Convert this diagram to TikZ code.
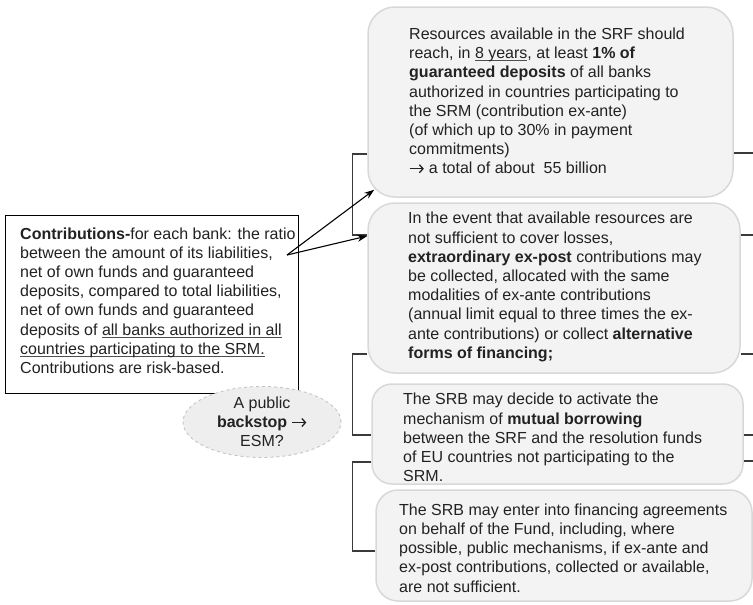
\documentclass[tikz,border=0pt]{standalone}
\usepackage{fontspec}
\setmainfont{Liberation Sans}
\usetikzlibrary{arrows.meta,shapes.geometric}
\definecolor{ink}{HTML}{222222}
\definecolor{boxfill}{HTML}{F3F3F3}
\definecolor{boxline}{HTML}{D8D8D8}
\definecolor{ovalfill}{HTML}{EEEEEE}
\definecolor{ovalline}{HTML}{C4C4C4}
\definecolor{wire}{HTML}{3A3A3A}
% underline drawn as a thin rule just below the baseline
\newcommand\ulx[1]{\setbox0\hbox{#1}\rlap{\color{ink!80}\rule[-2.6pt]{\wd0}{0.9pt}}\box0}
% inline right arrow with an open chevron head
\newcommand\rarr{\tikz[baseline=0pt]\draw[ink, line width=1.3pt, -{Straight Barb[length=3.6pt,width=8pt]}] (0pt,5.2pt) -- (14pt,5.2pt);}
\begin{document}
\begin{tikzpicture}[x=1pt,y=-1pt,
  rbox/.style={draw=boxline, line width=1.5pt, fill=boxfill, rounded corners=#1, inner sep=0pt},
  rbox/.default=26pt,
  plainbox/.style={draw=black, line width=1pt, fill=white, inner sep=0pt},
  oval/.style={ellipse, draw=ovalline, dashed, line width=0.9pt, fill=ovalfill, inner sep=0pt,
    align=center, text=ink, font=\fontsize{16}{19.2}\selectfont},
  txt/.style={align=left, anchor=west, inner sep=0pt, text=ink, font=\fontsize{16}{19.2}\selectfont},
  bracket/.style={draw=wire, line width=1.2pt},
  arr/.style={draw=black, line width=1.1pt, -{Stealth[length=10pt,width=7pt]}}]
\useasboundingbox (0,0) rectangle (753,605);
\coordinate (edge) at (753,0);

% fund resource boxes on the right
\node[rbox=27pt, minimum width=365pt, minimum height=190pt] (b1) at (550.5,102) {};
\node[rbox=27pt, minimum width=372pt, minimum height=170pt] (b2) at (554,288) {};
\node[rbox=20pt, minimum width=371pt, minimum height=100pt] (b3) at (557.5,434) {};
\node[rbox=22pt, minimum width=376pt, minimum height=111pt] (b4) at (564,545.5) {};

\node[txt] (t1) at (409,101) {Resources available in the SRF should\\
reach, in \ulx{8 years}, at least \textbf{1\% of}\\
\textbf{guaranteed deposits} of all banks\\
authorized in countries participating to\\
the SRM (contribution ex-ante)\\
(of which up to 30\% in payment\\
commitments)\\
\rarr\ a total of about\ \ 55 billion};

\node[txt] (t2) at (408,287) {In the event that available resources are\\
not sufficient to cover losses,\\
\textbf{extraordinary ex-post} contributions may\\
be collected, allocated with the same\\
modalities of ex-ante contributions\\
(annual limit equal to three times the ex-\\
ante contributions) or collect \textbf{alternative}\\
\textbf{forms of financing;}};

\node[txt] (t3) at (403,437.5) {The SRB may decide to activate the\\
mechanism of \textbf{mutual borrowing}\\
between the SRF and the resolution funds\\
of EU countries not participating to the\\
SRM.};

\node[txt] (t4) at (399,548) {The SRB may enter into financing agreements\\
on behalf of the Fund, including, where\\
possible, public mechanisms, if ex-ante and\\
ex-post contributions, collected or available,\\
are not sufficient.};

% contributions box and the backstop oval
\node[plainbox, minimum width=293pt, minimum height=178pt] (cb) at (151.5,304) {};
\node[txt] (tc) at (20,300.5) {\textbf{Contributions-}for each bank: the ratio\\
between the amount of its liabilities,\\
net of own funds and guaranteed\\
deposits, compared to total liabilities,\\
net of own funds and guaranteed\\
deposits of \ulx{all banks authorized in all}\\
\ulx{countries participating to the SRM.}\\
Contributions are risk-based.};

\node[oval, minimum width=158pt, minimum height=71pt] (bs) at (262,422)
  {A public\\\textbf{backstop} \rarr\\ESM?};

% brackets on the left side of the boxes
\draw[bracket] ([yshift=-52pt]b1.west) -- ++(-15,0) |- ([yshift=53pt]b2.west);
\draw[bracket] ([yshift=-66pt]b2.west) -- ++(-15,0) |- ([yshift=-1pt]b3.west);
\draw[bracket] ([yshift=-28pt]b3.west) -- ++(-19,0) |- ([yshift=-5.5pt]b4.west);

% connector stubs leaving on the right
\draw[bracket] ([yshift=-51pt]b1.east) -- ([yshift=-51pt]b1.east -| edge);
\draw[bracket] ([yshift=53pt]b2.east) -- ([yshift=53pt]b2.east -| edge);
\draw[bracket] ([yshift=-66pt]b2.east) -- ([yshift=-66pt]b2.east -| edge);
\draw[bracket] ([yshift=-1pt]b3.east) -- ([yshift=-1pt]b3.east -| edge);
\draw[bracket] ([yshift=-27pt]b3.east) -- ([yshift=-27pt]b3.east -| edge);

% arrows from the contributions text
\coordinate (src) at (287,255);
\draw[arr] (src) -- ([xshift=7pt,yshift=8pt]b1.south west);
\draw[arr] (src) -- ([yshift=52pt]b2.west);
\end{tikzpicture}
\end{document}
